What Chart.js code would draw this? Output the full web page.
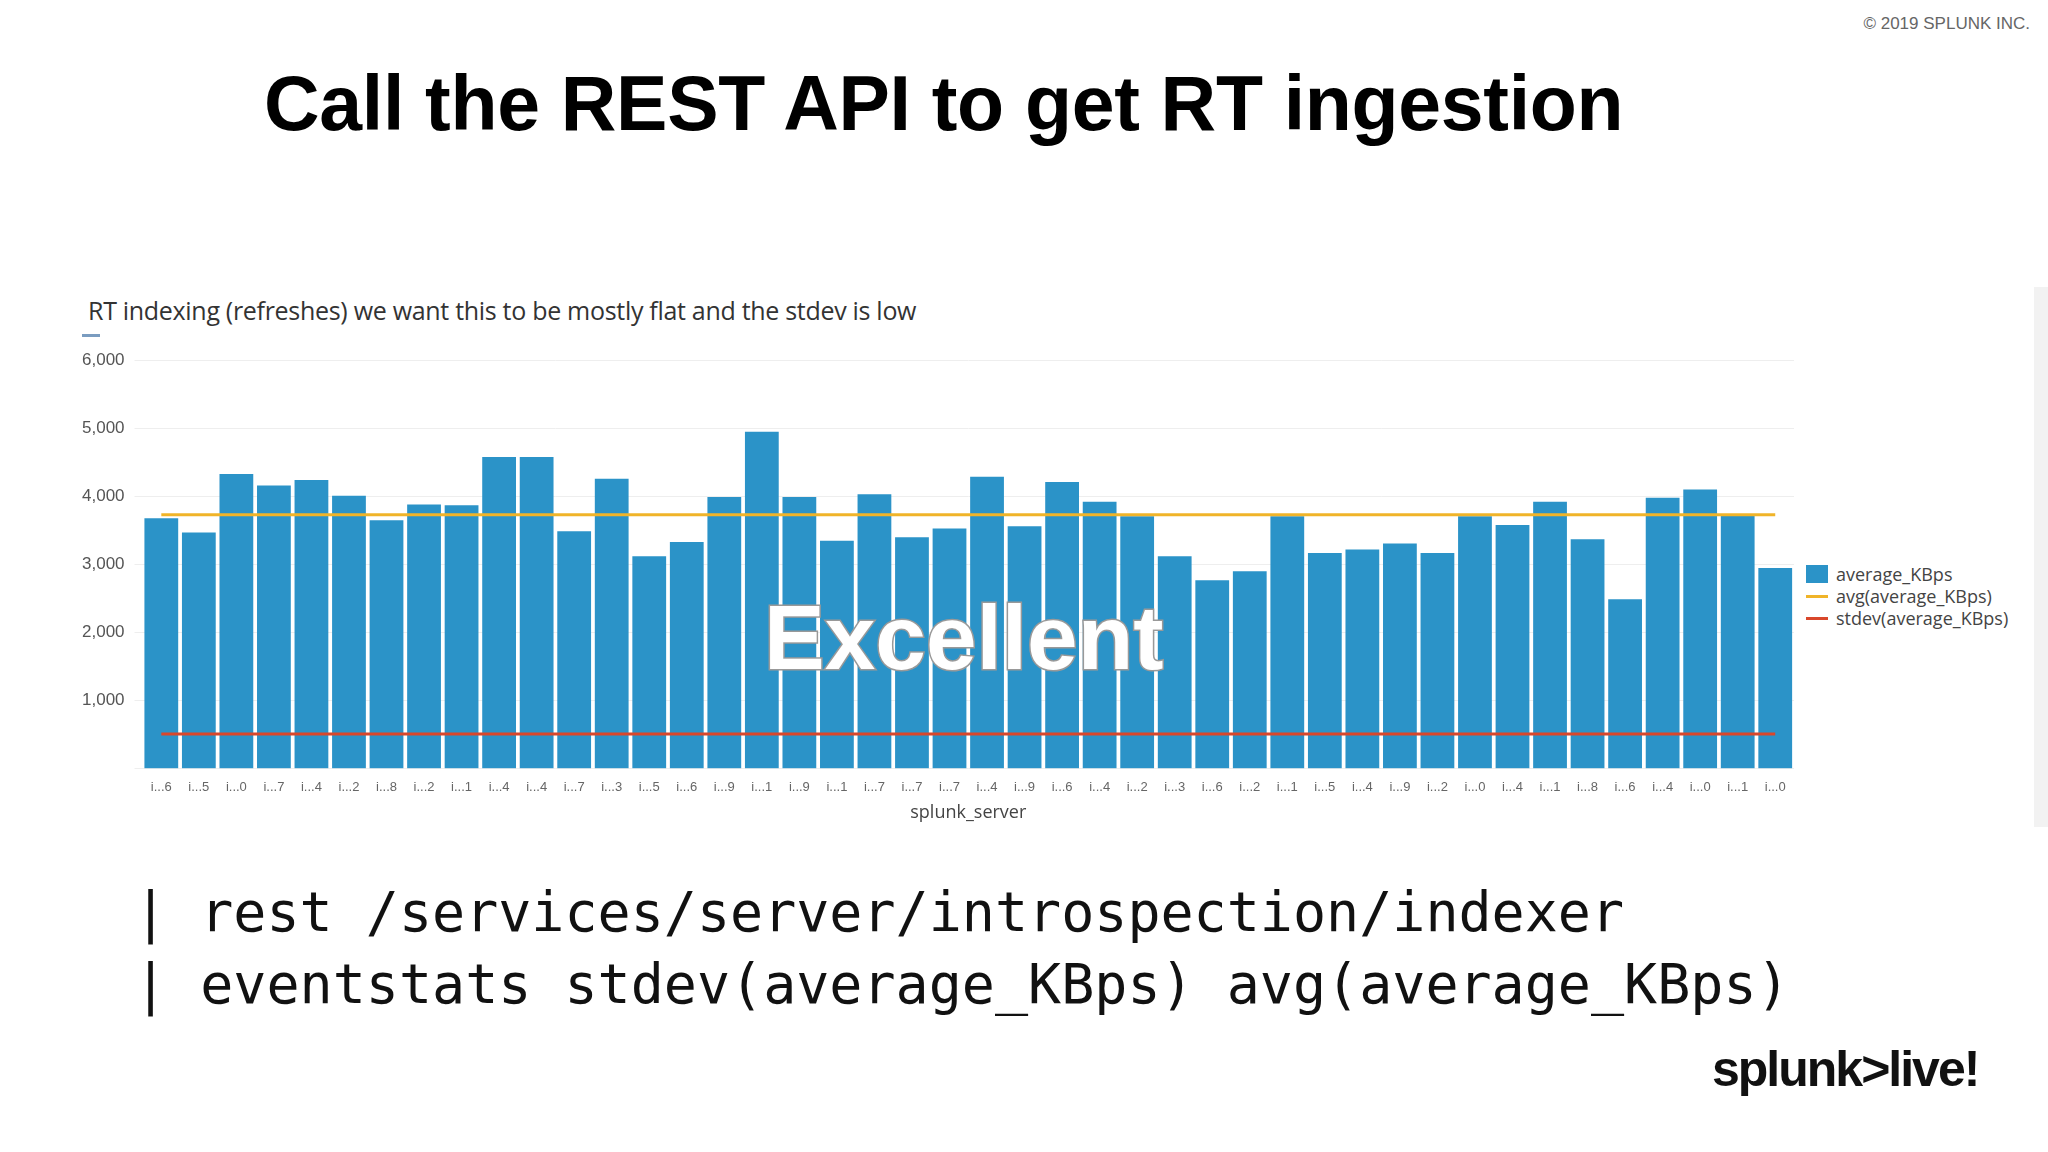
<!DOCTYPE html>
<html><head><meta charset="utf-8">
<script src="https://cdn.jsdelivr.net/npm/chart.js@4/dist/chart.umd.min.js"></script>
<style>
body{margin:0;width:2048px;height:1152px;background:#fff;position:relative;overflow:hidden;font-family:"Liberation Sans",Arial,sans-serif}
.abs{position:absolute}
#title{left:264px;top:59px;font-size:77px;font-weight:bold;color:#000;white-space:nowrap;letter-spacing:-0.3px}
#copy{right:18px;top:14px;font-size:17px;color:#666}
#ctitle{left:88px;top:293px;font-size:25px;color:#333;font-family:"Open Sans",sans-serif;letter-spacing:-0.3px}
#dash{left:82px;top:334px;width:18px;height:3px;background:#7a9cc0}
#wrap{left:72px;top:340px;width:1722px;height:488px}
#legend{left:1806px;top:563px;font-size:18px;color:#444;font-family:"Open Sans",sans-serif;line-height:22px}
#legend div{display:flex;align-items:center;gap:8px}
.sw{width:22px;height:18px;background:#2b93c8}
.ln{width:22px;height:3px}
#code{left:134px;top:876px;font-family:"DejaVu Sans Mono",monospace;font-size:55px;line-height:72px;color:#111;white-space:pre}
#exc{left:764px;top:586px;font-size:91px;font-weight:bold;color:#fff;-webkit-text-stroke:3px #999;paint-order:stroke fill}
#logo{left:1712px;top:1040px;font-size:50px;font-weight:bold;color:#111;letter-spacing:-2px;font-family:"Liberation Sans",sans-serif}
#side{left:2034px;top:287px;width:14px;height:540px;background:#f2f2f2}
</style></head><body>
<div id="copy" class="abs">© 2019 SPLUNK INC.</div>
<div id="title" class="abs">Call the REST API to get RT ingestion</div>
<div id="ctitle" class="abs">RT indexing (refreshes) we want this to be mostly flat and the stdev is low</div>
<div id="dash" class="abs"></div>
<div id="side" class="abs"></div>
<div id="wrap" class="abs"><canvas id="c"></canvas></div>
<div id="legend" class="abs">
<div><span class="sw"></span>average_KBps</div>
<div><span class="ln" style="background:#f0b429"></span>avg(average_KBps)</div>
<div><span class="ln" style="background:#d9472b"></span>stdev(average_KBps)</div>
</div>
<div id="exc" class="abs">Excellent</div>
<div id="code" class="abs">| rest /services/server/introspection/indexer
| eventstats stdev(average_KBps) avg(average_KBps)</div>
<div id="logo" class="abs">splunk&gt;live!</div>
<script>
const categories = ["i...6","i...5","i...0","i...7","i...4","i...2","i...8","i...2","i...1","i...4","i...4","i...7","i...3","i...5","i...6","i...9","i...1","i...9","i...1","i...7","i...7","i...7","i...4","i...9","i...6","i...4","i...2","i...3","i...6","i...2","i...1","i...5","i...4","i...9","i...2","i...0","i...4","i...1","i...8","i...6","i...4","i...0","i...1","i...0"];
const averageKBps = [3680,3470,4330,4160,4240,4010,3650,3880,3870,4580,4580,3490,4260,3120,3330,3990,4950,3990,3350,4030,3400,3530,4290,3560,4210,3920,3710,3120,2770,2900,3710,3170,3220,3310,3170,3710,3580,3920,3370,2490,3980,4100,3720,2950];
const avgValue = 3730;
const stdevValue = 510;
const yTicks = [0,1000,2000,3000,4000,5000,6000];
const avgSeries = categories.map(()=>avgValue);
const stdevSeries = categories.map(()=>stdevValue);
new Chart(document.getElementById('c'),{
 data:{labels:categories,datasets:[
  {type:'line',label:'avg(average_KBps)',data:avgSeries,borderColor:'#f0b429',borderWidth:3,pointRadius:0,order:0},
  {type:'line',label:'stdev(average_KBps)',data:stdevSeries,borderColor:'#d9472b',borderWidth:3,pointRadius:0,order:0},
  {type:'bar',label:'average_KBps',data:averageKBps,backgroundColor:'#2b93c8',categoryPercentage:1,barPercentage:0.9,order:1}
 ]},
 options:{responsive:true,maintainAspectRatio:false,animation:false,
  plugins:{legend:{display:false},tooltip:{enabled:false}},
  scales:{
   x:{grid:{display:false},border:{display:false},ticks:{color:'#666',font:{size:13},autoSkip:false,maxRotation:0},
      title:{display:true,text:'splunk_server',color:'#444',font:{size:18,family:'Open Sans'},padding:{top:4}}},
   y:{min:0,max:6000,afterBuildTicks:a=>{a.ticks=yTicks.map(v=>({value:v}));},
      grid:{color:'#eee'},border:{display:false},
      ticks:{color:'#555',font:{size:17},padding:10,callback:v=>v===0?'':v.toLocaleString('en-US')}}
  }}
});
</script>
</body></html>
